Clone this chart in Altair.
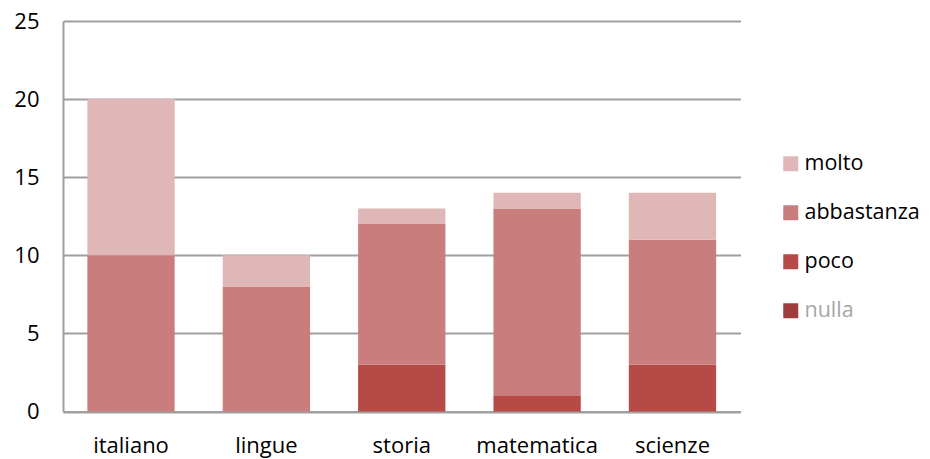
import altair as alt
import pandas as pd

categories = ["italiano", "lingue", "storia", "matematica", "scienze"]
series = ["nulla", "poco", "abbastanza", "molto"]
nulla = [0, 0, 0, 0, 0]
poco = [0, 0, 3, 1, 3]
abbastanza = [10, 8, 9, 12, 8]
molto = [10, 2, 1, 1, 3]
colors = ["#9E3D3B", "#B54A47", "#C97D7C", "#DFB7B6"]

rows = []
for s, vals in zip(series, [nulla, poco, abbastanza, molto]):
    for c, v in zip(categories, vals):
        rows.append({"materia": c, "livello": s, "valore": v, "ord": series.index(s)})
df = pd.DataFrame(rows)

FONT = "Open Sans"
FS = 22

chart = alt.Chart(df).mark_bar().encode(
    x=alt.X("materia:N", sort=categories, title=None,
            scale=alt.Scale(paddingInner=0.355, paddingOuter=0.18),
            axis=alt.Axis(labelAngle=0, ticks=False, labelPadding=24, labelFontSize=FS,
                          labelFont=FONT, labelColor="#000", domainColor="#A0A0A0",
                          domainWidth=2, grid=False)),
    y=alt.Y("valore:Q", stack="zero", title=None,
            scale=alt.Scale(domain=[0, 25]),
            axis=alt.Axis(values=[0, 5, 10, 15, 20, 25], ticks=False, labelPadding=24,
                          labelFontSize=FS, labelFont=FONT, labelColor="#000",
                          domainColor="#A0A0A0", domainWidth=2,
                          gridColor="#A0A0A0", gridWidth=2)),
    color=alt.Color("livello:N", scale=alt.Scale(domain=series, range=colors),
                    sort=series[::-1], title=None,
                    legend=alt.Legend(orient="none", legendX=717, legendY=132,
                                      symbolType="square", symbolSize=225,
                                      symbolStrokeWidth=0, labelFontSize=21.5,
                                      labelFont=FONT, rowPadding=26, labelOffset=3,
                                      values=["molto", "abbastanza", "poco", "nulla"],
                                      labelColor=alt.ExprRef(expr="datum.label == 'nulla' ? '#A6A6A6' : '#000000'"))),
    order=alt.Order("ord:Q", sort="ascending"),
).properties(
    width=677.5, height=390.5,
    padding={"left": 55, "top": 13, "right": 181.5, "bottom": 50},
    autosize=alt.AutoSizeParams(type="none"),
).configure_view(stroke=None).configure_axisY(domain=True)

chart.save("out.html", embed_options={"renderer": "svg", "actions": False})
